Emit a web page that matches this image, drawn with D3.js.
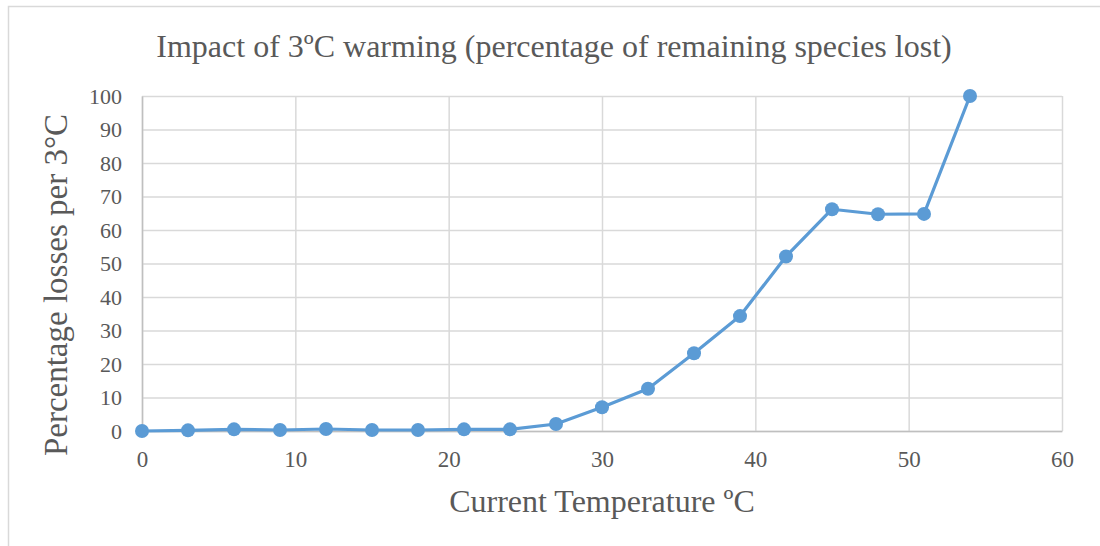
<!DOCTYPE html>
<html>
<head>
<meta charset="utf-8">
<script src="https://cdn.jsdelivr.net/npm/d3@7"></script>
<style>
  body { margin: 0; background: #fff; }
  text { font-family: "Liberation Serif", "Times New Roman", serif; fill: #595959; }
</style>
</head>
<body>
<div id="chart"></div>
<script>
// chart data
var temps = [0, 3, 6, 9, 12, 15, 18, 21, 24, 27, 30, 33, 36, 39, 42, 45, 48, 51, 54]
var losses = [0, 0.2, 0.5, 0.3, 0.6, 0.3, 0.3, 0.5, 0.5, 2.1, 7.1, 12.6, 23.2, 34.3, 52.1, 66.2, 64.7, 64.8, 100]
var xTicks = [0, 10, 20, 30, 40, 50, 60]
var yTicks = [0, 10, 20, 30, 40, 50, 60, 70, 80, 90, 100]

var width = 1100, height = 546
var margin = { top: 96, right: 38, bottom: 115, left: 142 }

var svg = d3.select("#chart")
  .append("svg")
  .attr("width", width)
  .attr("height", height)

// outer chart border
svg.append("rect")
  .attr("x", 8.5)
  .attr("y", 6.5)
  .attr("width", width + 10)
  .attr("height", height + 10)
  .attr("fill", "none")
  .style("stroke", "#d9d9d9")
  .style("stroke-width", 1.5)

var xScale = d3.scaleLinear()
  .domain([0, 60])
  .range([margin.left, width - margin.right])

var yScale = d3.scaleLinear()
  .domain([0, 100])
  .range([height - margin.bottom, margin.top])

// grid
var xGrid = d3.axisBottom(xScale)
  .tickValues(xTicks)
  .tickSize(-(height - margin.bottom - margin.top))
  .tickFormat("")

var yGrid = d3.axisLeft(yScale)
  .tickValues(yTicks)
  .tickSize(-(width - margin.right - margin.left))
  .tickFormat("")

svg.append("g")
  .attr("class", "grid")
  .attr("transform", `translate(0,${height - margin.bottom})`)
  .call(xGrid)
  .call(g => g.select(".domain").remove())
  .selectAll("line")
  .style("stroke", "#d9d9d9")
  .style("stroke-width", 1.5)

svg.append("g")
  .attr("class", "grid")
  .attr("transform", `translate(${margin.left},0)`)
  .call(yGrid)
  .call(g => g.select(".domain").remove())
  .selectAll("line")
  .style("stroke", "#d9d9d9")
  .style("stroke-width", 1.5)

// axes
var xAxis = d3.axisBottom(xScale)
  .tickValues(xTicks)
  .tickSize(0)
  .tickPadding(20)

var yAxis = d3.axisLeft(yScale)
  .tickValues(yTicks)
  .tickSize(0)
  .tickPadding(20)

svg.append("g")
  .attr("class", "x-axis")
  .attr("transform", `translate(0,${height - margin.bottom})`)
  .call(xAxis)
  .call(g => g.select(".domain").style("stroke", "#bfbfbf").style("stroke-width", 1.5))
  .selectAll("text")
  .style("font-size", "23px")
  .style("fill", "#595959")

svg.append("g")
  .attr("class", "y-axis")
  .attr("transform", `translate(${margin.left},0)`)
  .call(yAxis)
  .call(g => g.select(".domain").style("stroke", "#bfbfbf").style("stroke-width", 1.5))
  .selectAll("text")
  .style("font-size", "22px")
  .style("fill", "#595959")

// series
var pts = temps.map((t, i) => ({ t: t, v: losses[i] }))

var line = d3.line()
  .x(d => xScale(d.t))
  .y(d => yScale(d.v))

svg.append("path")
  .datum(pts)
  .attr("d", line)
  .attr("fill", "none")
  .style("stroke", "#5b9bd5")
  .style("stroke-width", 3.2)
  .style("stroke-linejoin", "round")

svg.selectAll(".dot")
  .data(pts)
  .enter()
  .append("circle")
  .attr("class", "dot")
  .attr("cx", d => xScale(d.t))
  .attr("cy", d => yScale(d.v))
  .attr("r", 7)
  .style("fill", "#5b9bd5")

// titles
svg.append("text")
  .attr("x", 554)
  .attr("y", 57)
  .attr("text-anchor", "middle")
  .style("font-size", "32px")
  .text("Impact of 3ºC warming (percentage of remaining species lost)")

svg.append("text")
  .attr("x", 602)
  .attr("y", 512)
  .attr("text-anchor", "middle")
  .style("font-size", "32px")
  .text("Current Temperature ºC")

svg.append("text")
  .attr("transform", "translate(67,285) rotate(-90)")
  .attr("text-anchor", "middle")
  .style("font-size", "33px")
  .text("Percentage losses per 3°C")
</script>
</body>
</html>
